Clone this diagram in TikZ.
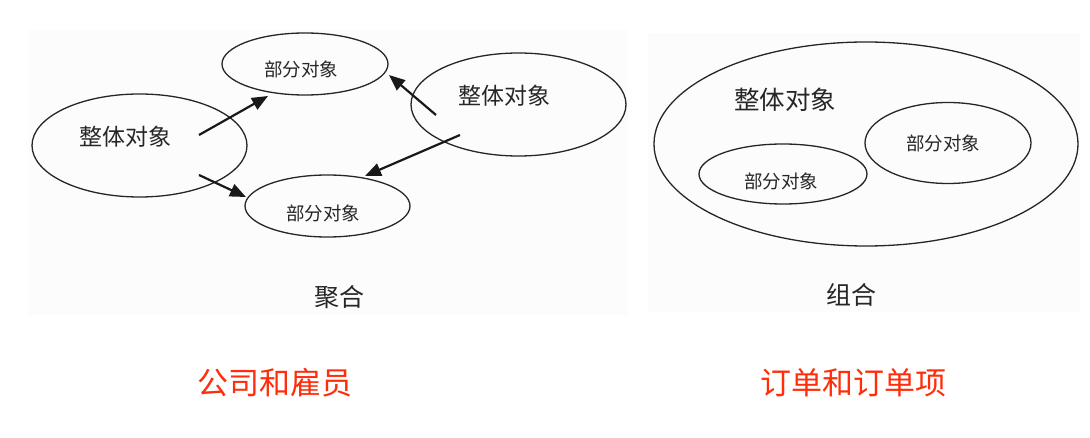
\documentclass[tikz,border=0pt]{standalone}
\usepackage{fontspec}
\setmainfont{Noto Sans CJK SC}
\usetikzlibrary{shapes.geometric,arrows.meta}
\definecolor{capred}{HTML}{FF2D0A}
\definecolor{panelbg}{HTML}{FCFCFC}
\tikzset{
  oval/.style={draw=black!85,line width=1.3pt,ellipse,inner sep=0pt},
  lbl/.style={inner sep=0pt,text=black!85},
  arr/.style={draw=black!90,line width=2.2pt,-{Triangle[length=16pt,width=13pt]}},
  redcaption/.style={inner sep=0pt,text=capred,font=\fontsize{31}{31}\selectfont},
}
\begin{document}
\begin{tikzpicture}[x=1pt,y=-1pt]
\useasboundingbox (0,0) rectangle (1090,438);
\fill[white] (0,0) rectangle (1090,438);
% faint panels
\fill[panelbg] (28,30) rectangle (628,315);
\fill[panelbg] (648,33) rectangle (1080,312);
% aggregation
\node[oval,minimum width=215pt,minimum height=103pt] (w1) at (139.5,145.5) {};
\node[oval,minimum width=166pt,minimum height=62pt] (p1) at (305,64) {};
\node[oval,minimum width=165pt,minimum height=62pt] (p2) at (327.5,206) {};
\node[oval,minimum width=215pt,minimum height=103pt] (w2) at (518.5,104.5) {};
\node[lbl,font=\fontsize{23}{23}\selectfont] (t1) at (125,137) {整体对象};
\node[lbl,font=\fontsize{23}{23}\selectfont] (t2) at (504,96) {整体对象};
\node[lbl,font=\fontsize{18.5}{18.5}\selectfont] (t3) at (301,69) {部分对象};
\node[lbl,font=\fontsize{18.5}{18.5}\selectfont] (t4) at (323,213) {部分对象};
\node[lbl,font=\fontsize{25}{25}\selectfont] (c1) at (339,297) {聚合};
\coordinate (a1s) at (199,135);
\coordinate (a1e) at (268,96);
\coordinate (a2s) at (199,175);
\coordinate (a2e) at (246,197);
\coordinate (a3s) at (436,115);
\coordinate (a3e) at (389,75);
\coordinate (a4s) at (460,135);
\coordinate (a4e) at (365,176);
\draw[arr] (a1s) -- (a1e);
\draw[arr] (a2s) -- (a2e);
\draw[arr] (a3s) -- (a3e);
\draw[arr] (a4s) -- (a4e);
% composition
\node[oval,minimum width=424pt,minimum height=204pt] (w3) at (866,144) {};
\node[oval,minimum width=166pt,minimum height=81pt] (p3) at (948,143) {};
\node[oval,minimum width=168pt,minimum height=60pt] (p4) at (783,174) {};
\node[lbl,font=\fontsize{25.5}{25.5}\selectfont] (t5) at (785,100) {整体对象};
\node[lbl,font=\fontsize{18.5}{18.5}\selectfont] (t6) at (943,143) {部分对象};
\node[lbl,font=\fontsize{18.5}{18.5}\selectfont] (t7) at (781,181) {部分对象};
\node[lbl,font=\fontsize{25}{25}\selectfont] (c2) at (851,295) {组合};
% red captions
\node[redcaption] (r1) at (275,383) {公司和雇员};
\node[redcaption] (r2) at (853,383) {订单和订单项};
\end{tikzpicture}
\end{document}
